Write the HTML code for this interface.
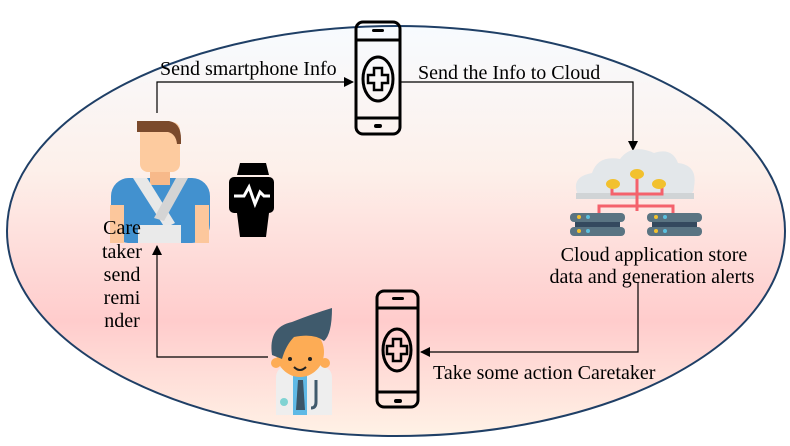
<!DOCTYPE html><html><head><style>body{margin:0;background:#fff}svg{display:block}text{font-family:"Liberation Serif",serif;font-size:20px;fill:#000}</style></head><body>
<svg width="790" height="446" viewBox="0 0 790 446">
<defs><linearGradient id="g" x1="0" y1="0" x2="0" y2="1"><stop offset="0" stop-color="#f7fbff"/><stop offset="0.35" stop-color="#fdf0ea"/><stop offset="0.72" stop-color="#ffcccc"/><stop offset="1" stop-color="#fff2e6"/></linearGradient>
<marker id="a" markerWidth="10" markerHeight="10" refX="9" refY="5" orient="auto" markerUnits="userSpaceOnUse"><path d="M0,0L10,5L0,10z" fill="#000"/></marker></defs>
<ellipse cx="396" cy="231" rx="389" ry="205" fill="url(#g)" stroke="#1f3f66" stroke-width="2"/>
<polyline points="157,113 157,82 353,82" fill="none" stroke="#000" stroke-width="1.2" marker-end="url(#a)"/>
<polyline points="400,82 633,82 633,150" fill="none" stroke="#000" stroke-width="1.2" marker-end="url(#a)"/>
<polyline points="638,282 638,352 421,352" fill="none" stroke="#000" stroke-width="1.2" marker-end="url(#a)"/>
<polyline points="268,357 157,357 157,246" fill="none" stroke="#000" stroke-width="1.2" marker-end="url(#a)"/>
<text x="160" y="75">Send smartphone Info</text>
<text x="418" y="79">Send the Info to Cloud</text>
<text x="433" y="379">Take some action Caretaker</text>
<text x="654" y="261" text-anchor="middle">Cloud application store</text>
<text x="652" y="283" text-anchor="middle">data and generation alerts</text>
<g stroke="#000" stroke-width="3" fill="none"><rect x="356" y="22" width="44" height="112" rx="7"/><line x1="356" y1="40" x2="400" y2="40"/><line x1="356" y1="118" x2="400" y2="118"/><ellipse cx="378" cy="79" rx="15" ry="22"/><path d="M374,68h8v7h6v8h-6v7h-8v-7h-6v-8h6z" stroke-width="2.5"/></g>
<rect x="372" y="29" width="12" height="3" rx="1.5" fill="#000"/><rect x="374" y="124" width="8" height="4" rx="2" fill="#000"/>
<g stroke="#000" stroke-width="3" fill="none"><rect x="377" y="291" width="41" height="116" rx="7"/><line x1="377" y1="308" x2="418" y2="308"/><line x1="377" y1="392" x2="418" y2="392"/><ellipse cx="397" cy="350" rx="14" ry="21"/><path d="M393,339h8v7h6v8h-6v7h-8v-7h-6v-8h6z" stroke-width="2.5"/></g>
<rect x="392" y="297" width="12" height="3" rx="1.5" fill="#000"/><rect x="394" y="399" width="8" height="4" rx="2" fill="#000"/>
<rect x="111" y="178" width="99" height="65" rx="18" fill="#4291cf"/>
<rect x="110" y="205" width="14" height="38" fill="#fcc79c"/><rect x="195" y="205" width="14" height="38" fill="#fcc79c"/>
<rect x="150" y="165" width="20" height="20" fill="#f7b98a"/>
<rect x="140" y="122" width="40" height="50" rx="8" fill="#fdcb9f"/>
<path d="M137,121h32q12,2 12,18v5h-4q-1,-10 -9,-12h-31z" fill="#7b4a2c"/>
<path d="M133,178l14,0 28,45 -10,5z" fill="#e8e8e8"/><path d="M188,178l-12,0 -22,40 10,3z" fill="#d4d4d4"/>
<rect x="138" y="225" width="43" height="18" fill="#eaeaea"/>
<path d="M240,163h26l3,12h-32z M237,213h32l-3,24h-26z" fill="#000"/>
<rect x="229" y="177" width="45" height="36" rx="5" fill="#000"/>
<polyline points="234,196 244,196 249,187 255,204 260,192 264,196 270,196" fill="none" stroke="#fff" stroke-width="3"/>
<g text-anchor="middle"><text x="122" y="234">Care</text><text x="122" y="258">taker</text><text x="122" y="281">send</text><text x="122" y="304">remi</text><text x="122" y="327">nder</text></g>
<path d="M276,378q0,-10 10,-12h36q10,2 10,12v37h-56z" fill="#eeeeee"/>
<rect x="293" y="375" width="14" height="40" fill="#5fb9e6"/><path d="M298,380h5l2,30h-9z" fill="#3b5567"/>
<ellipse cx="300" cy="352" rx="24" ry="25" fill="#fdac55"/>
<circle cx="276" cy="363" r="5" fill="#fdac55"/><circle cx="325" cy="363" r="5" fill="#fdac55"/>
<path d="M272,355q-4,-28 20,-33q20,-8 40,-14q0,26 -8,33q-10,-8 -30,-4q-8,8 -12,22z" fill="#3f5a6c"/>
<circle cx="290" cy="359" r="2" fill="#222"/><circle cx="310" cy="359" r="2" fill="#222"/>
<path d="M294,367q6,6 12,0" stroke="#222" stroke-width="2" fill="none"/>
<circle cx="284" cy="402" r="4" fill="#7fd3d3"/>
<path d="M316,380v22q0,6 -5,6" stroke="#3f5a6c" stroke-width="3" fill="none"/>
<path d="M578,195q-8,-18 14,-22q6,-18 28,-14q12,-16 34,-6q18,-6 24,10q20,2 16,24q0,8 -8,8h-100q-8,0 -8,0z" fill="#e3e7ea"/>
<path d="M576,193h118v6h-118z" fill="#d0d4d6"/>
<g stroke="#f4626c" stroke-width="3" fill="none"><path d="M637,177v34M612,186v8h50v-8M637,206h-38v8M637,206h36v8"/></g>
<ellipse cx="637" cy="174" rx="7" ry="5" fill="#f2c12e"/><ellipse cx="613" cy="184" rx="7" ry="5" fill="#f2c12e"/><ellipse cx="659" cy="184" rx="7" ry="5" fill="#f2c12e"/>
<g fill="#5a7482"><rect x="570" y="213" width="55" height="9" rx="4"/><rect x="570" y="227" width="55" height="9" rx="4"/><rect x="647" y="213" width="55" height="9" rx="4"/><rect x="647" y="227" width="55" height="9" rx="4"/></g>
<rect x="575" y="222" width="45" height="5" fill="#34495e"/><rect x="652" y="222" width="45" height="5" fill="#34495e"/>
<g fill="#f2c12e"><circle cx="579" cy="217" r="2"/><circle cx="579" cy="231" r="2"/><circle cx="656" cy="217" r="2"/><circle cx="656" cy="231" r="2"/></g>
<g fill="#5bc0de"><circle cx="588" cy="217" r="2"/><circle cx="588" cy="231" r="2"/><circle cx="665" cy="217" r="2"/><circle cx="665" cy="231" r="2"/></g>
</svg></body></html>
